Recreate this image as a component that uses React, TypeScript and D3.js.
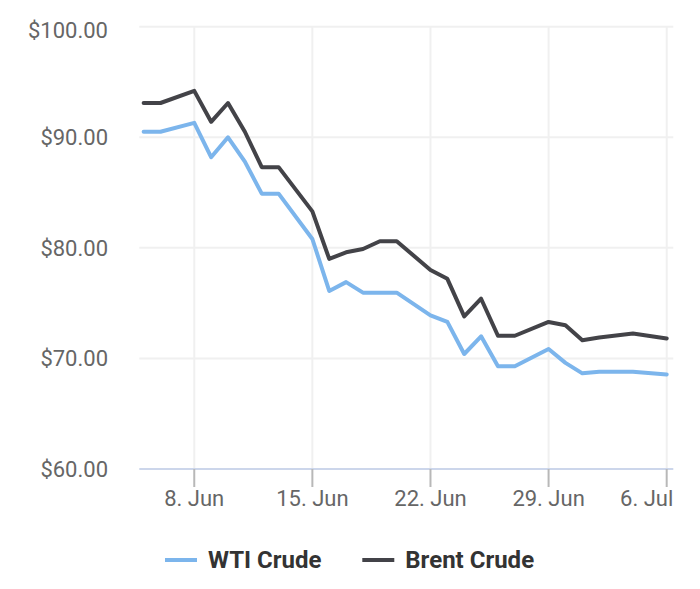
import React, { useEffect, useRef } from "react";
import * as d3 from "d3";

const dates: string[] = [
  "2022-06-05", "2022-06-06", "2022-06-08", "2022-06-09", "2022-06-10", "2022-06-11",
  "2022-06-12", "2022-06-13", "2022-06-15", "2022-06-16", "2022-06-17", "2022-06-18",
  "2022-06-19", "2022-06-20", "2022-06-22", "2022-06-23", "2022-06-24", "2022-06-25",
  "2022-06-26", "2022-06-27", "2022-06-29", "2022-06-30", "2022-07-01", "2022-07-02",
  "2022-07-04", "2022-07-06",
];
const wti: number[] = [
  90.5, 90.5, 91.3, 88.2, 90.0, 87.8, 84.9, 84.9, 80.8, 76.1, 76.9, 75.95,
  75.95, 75.95, 73.9, 73.3, 70.4, 72.0, 69.3, 69.3, 70.85, 69.6, 68.65, 68.8,
  68.8, 68.55,
];
const brent: number[] = [
  93.1, 93.1, 94.2, 91.4, 93.1, 90.5, 87.3, 87.3, 83.3, 79.0, 79.6, 79.9,
  80.6, 80.6, 78.0, 77.2, 73.8, 75.4, 72.05, 72.05, 73.3, 73.0, 71.65, 71.9,
  72.25, 71.8,
];
const yTicks: number[] = [60, 70, 80, 90, 100];
const xTickDates: string[] = ["2022-06-08", "2022-06-15", "2022-06-22", "2022-06-29", "2022-07-06"];
const seriesNames: string[] = ["WTI Crude", "Brent Crude"];
const seriesColors: string[] = ["#7cb5ec", "#434348"];

const W = 700;
const H = 589;
const left = 139.3;
const right = 673.3;
const top = 26.7;
const bottom = 469;

export default function App() {
  const ref = useRef<SVGSVGElement | null>(null);

  useEffect(() => {
    const svg = d3.select(ref.current);
    svg.selectAll("*").remove();

    const parse = (s: string) => new Date(s + "T00:00:00Z");
    const x = d3
      .scaleUtc()
      .domain([new Date(Date.UTC(2022, 5, 4, 17, 50)), new Date(Date.UTC(2022, 6, 6, 9, 24))])
      .range([left, right]);
    const y = d3.scaleLinear().domain([60, 100]).range([bottom, top]);

    const font = "Roboto, 'Noto Sans', Arial, sans-serif";

    // horizontal gridlines
    svg
      .append("g")
      .selectAll("line")
      .data(yTicks.filter((v) => v !== 60))
      .join("line")
      .attr("x1", left)
      .attr("x2", right)
      .attr("y1", (d) => y(d))
      .attr("y2", (d) => y(d))
      .attr("stroke", "#f0f0f0")
      .attr("stroke-width", 2);

    // vertical gridlines
    svg
      .append("g")
      .selectAll("line")
      .data(xTickDates)
      .join("line")
      .attr("x1", (d) => x(parse(d)))
      .attr("x2", (d) => x(parse(d)))
      .attr("y1", top)
      .attr("y2", bottom)
      .attr("stroke", "#f0f0f0")
      .attr("stroke-width", 2);

    // x axis line
    svg
      .append("line")
      .attr("x1", left)
      .attr("x2", right)
      .attr("y1", bottom)
      .attr("y2", bottom)
      .attr("stroke", "#ccd6eb")
      .attr("stroke-width", 2);

    // ticks
    svg
      .append("g")
      .selectAll("line")
      .data(xTickDates)
      .join("line")
      .attr("x1", (d) => x(parse(d)))
      .attr("x2", (d) => x(parse(d)))
      .attr("y1", bottom)
      .attr("y2", bottom + 18)
      .attr("stroke", "#b8b8b8")
      .attr("stroke-width", 2);

    // y labels
    svg
      .append("g")
      .selectAll("text")
      .data(yTicks)
      .join("text")
      .attr("x", 108)
      .attr("y", (d) => Math.max(y(d), 30.5))
      .attr("dy", "0.36em")
      .attr("text-anchor", "end")
      .attr("font-family", font)
      .attr("font-size", 22)
      .attr("fill", "#666666")
      .text((d) => "$" + d.toFixed(2));

    // x labels
    const fmt = d3.utcFormat("%-d. %b");
    const xl = svg
      .append("g")
      .selectAll("text")
      .data(xTickDates)
      .join("text")
      .attr("x", (d) => x(parse(d)))
      .attr("y", 506)
      .attr("text-anchor", "middle")
      .attr("font-family", font)
      .attr("font-size", 22)
      .attr("fill", "#666666")
      .text((d) => fmt(parse(d)));
    xl.each(function () {
      const el = this as SVGTextElement;
      const bb = el.getBBox();
      if (bb.x + bb.width > right) {
        el.setAttribute("x", String(right - bb.width / 2));
      }
    });

    // lines
    const allSeries = [wti, brent];
    const line = d3
      .line<number>()
      .x((_, i) => x(parse(dates[i])))
      .y((d) => y(d));
    allSeries.forEach((s, k) => {
      svg
        .append("path")
        .datum(s)
        .attr("d", line)
        .attr("fill", "none")
        .attr("stroke", seriesColors[k])
        .attr("stroke-width", 4)
        .attr("stroke-linejoin", "round")
        .attr("stroke-linecap", "round");
    });

    // legend
    const legendX = [165, 362.3];
    const lg = svg.append("g");
    seriesNames.forEach((name, k) => {
      lg.append("line")
        .attr("x1", legendX[k])
        .attr("x2", legendX[k] + 32)
        .attr("y1", 560)
        .attr("y2", 560)
        .attr("stroke", seriesColors[k])
        .attr("stroke-width", 4);
      lg.append("text")
        .attr("x", legendX[k] + 43)
        .attr("y", 567.7)
        .attr("font-family", font)
        .attr("font-size", 24)
        .attr("font-weight", "bold")
        .attr("fill", "#333333")
        .text(name);
    });
  }, []);

  return (
    <svg
      ref={ref}
      width={W}
      height={H}
      style={{ position: "absolute", left: 0, top: 0, background: "#ffffff" }}
    />
  );
}
